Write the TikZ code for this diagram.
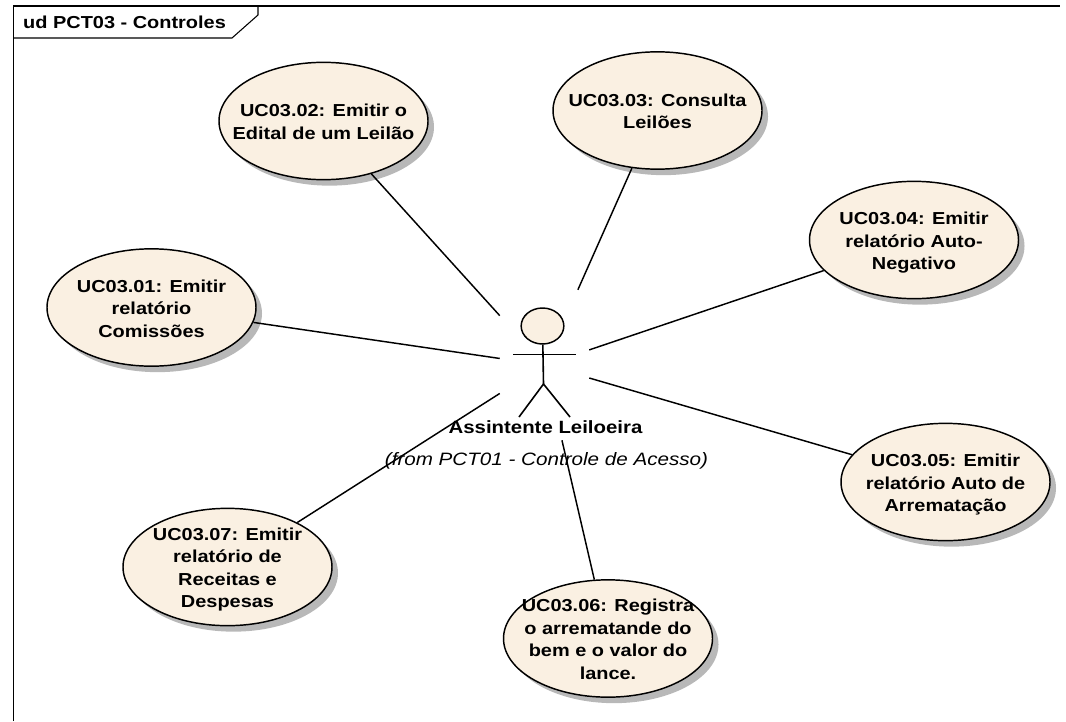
\documentclass[tikz,border=0pt]{standalone}
\usepackage{fontspec}
\setmainfont{Liberation Sans}[FakeStretch=1.15]
\usepackage{xcolor}
\usetikzlibrary{shapes.geometric, shadows}
\definecolor{ucfill}{HTML}{FAF0E2}
\newcommand{\uctext}[1]{\hbox to 0pt{\hss\raisebox{-0.38em}[0pt][0pt]{\begin{tabular}{@{}c@{}}#1\end{tabular}}\hss}}
\tikzstyle{usecase} = [ellipse, minimum width=156.75pt, minimum height=88pt, inner sep=0pt, draw=black, line width=1.1pt, fill=ucfill, text centered, font=\fontsize{13}{16.9}\selectfont\bfseries, drop shadow={shadow xshift=4.5pt, shadow yshift=-4.5pt, fill=black!28, opacity=1}]
\tikzstyle{actorbox} = [rectangle, minimum width=66.75pt, minimum height=112.5pt, inner sep=0pt]
\tikzstyle{limb} = [line width=1.2pt]
\tikzstyle{arrow} = [line width=1.1pt]
\begin{document}
\begin{tikzpicture}[x=0.75pt, y=-0.75pt]
        \useasboundingbox (0,0) rectangle (1066,721);
        \draw [line width=0.8pt] (13.5,721) -- (13.5,6) -- (1060,6);
        \draw [line width=0.8pt] (13.5,38) -- (232,38) -- (258,15) -- (258,6);
        \node (title) [anchor=west, font=\fontsize{13}{16}\selectfont\bfseries] at (18.5,22.5) {ud PCT03 - Controles};

        \node (actor) [actorbox] at (544.5,365) {};
        \node (uc01) [usecase] at (151.5,307.5) {\uctext{UC03.01: Emitir\\relatório\\Comissões}};
        \node (uc02) [usecase] at (323.5,121) {\uctext{UC03.02: Emitir o\\Edital de um Leilão}};
        \node (uc03) [usecase] at (657.5,110.5) {\uctext{UC03.03: Consulta\\Leilões}};
        \node (uc04) [usecase] at (914,240) {\uctext{UC03.04: Emitir\\relatório Auto-\\Negativo}};
        \node (uc05) [usecase] at (945.5,482) {\uctext{UC03.05: Emitir\\relatório Auto de\\Arrematação}};
        \node (uc06) [usecase] at (608,638.5) {\uctext{UC03.06: Registra\\o arrematande do\\bem e o valor do\\lance.}};
        \node (uc07) [usecase] at (227.5,567) {\uctext{UC03.07: Emitir\\relatório de\\Receitas e\\Despesas}};

        \node (head) [ellipse, minimum width=32pt, minimum height=27pt, inner sep=0pt, draw=black, line width=1.1pt, fill=ucfill] at (542.5,326) {};
        \coordinate (hip) at (543.5,384);
        \draw [limb] (head) -- (hip);
        \draw [limb] (513,354.5) -- (576,354.5);
        \draw [limb] (519,417) -- (hip) -- (570,417);
        \node (name) [font=\fontsize{13.3}{16}\selectfont\bfseries] at (545.5,427) {Assintente Leiloeira};
        \node (from) [font=\fontsize{13.45}{16}\selectfont\itshape] at (546.5,461) {(from PCT01 - Controle de Acesso)};

        \draw [arrow] (uc01) -- (actor);
        \draw [arrow] (uc02) -- (actor);
        \draw [arrow] (uc03) -- (actor);
        \draw [arrow] (uc04) -- (actor);
        \draw [arrow] (uc05) -- (actor);
        \draw [arrow] (uc06) -- (actor);
        \draw [arrow] (uc07) -- (actor);
    \end{tikzpicture}
\end{document}
